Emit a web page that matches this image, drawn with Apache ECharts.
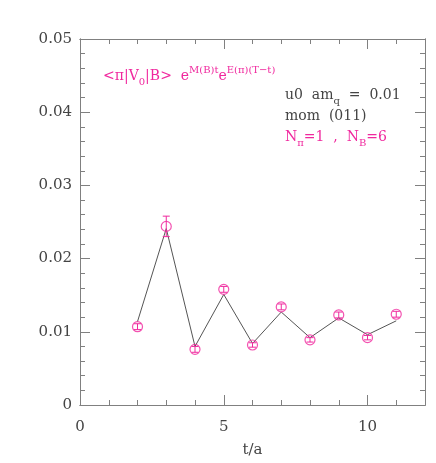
<!DOCTYPE html>
<html>
<head>
<meta charset="utf-8">
<script src="https://cdn.jsdelivr.net/npm/echarts@6/dist/echarts.min.js"></script>
<style>
html,body{margin:0;padding:0;background:#fff;}
#chart{width:436px;height:463px;}
</style>
</head>
<body>
<div id="chart"></div>
<script>
// ---- data ----
const tValues    = [2, 3, 4, 5, 6, 7, 8, 9, 10, 11];
const meanValues = [0.0107, 0.0244, 0.0076, 0.0158, 0.0082, 0.0134, 0.0089, 0.0123, 0.0092, 0.0124];
const errValues  = [0.0004, 0.0014, 0.0004, 0.0004, 0.0003, 0.0004, 0.0003, 0.0004, 0.0003, 0.0004];
const fitValues  = [0.0114, 0.0241, 0.0080, 0.0151, 0.0084, 0.0127, 0.0092, 0.0119, 0.0096, 0.0115];
const xTickLabels = [0, 5, 10];
const yTickLabels = ['0', '0.01', '0.02', '0.03', '0.04', '0.05'];

const PINK = '#f0289e';
const TXT = '#444';
const AX = '#808080';
const FONT = 'DejaVu Serif';

const chart = echarts.init(document.getElementById('chart'), null, {renderer: 'canvas'});

function xAx(pos, interval, len, labels) {
  return {
    type: 'value', position: pos, min: 0, max: 12, interval: interval,
    axisLine: {show: true, onZero: false, lineStyle: {color: AX, width: 1}},
    axisTick: {show: true, inside: true, length: len, lineStyle: {color: AX, width: 1}},
    splitLine: {show: false},
    axisLabel: labels ? {
      show: true, margin: 15, color: TXT, fontFamily: FONT, fontSize: 15,
      formatter: v => xTickLabels.indexOf(v) >= 0 ? String(v) : ''
    } : {show: false},
    name: labels ? 't/a' : '', nameLocation: 'middle', nameGap: 38,
    nameTextStyle: {color: TXT, fontFamily: FONT, fontSize: 15}
  };
}
function yAx(pos, interval, len, labels) {
  return {
    type: 'value', position: pos, min: 0, max: 0.05, interval: interval,
    axisLine: {show: true, onZero: false, lineStyle: {color: AX, width: 1}},
    axisTick: {show: true, inside: true, length: len, lineStyle: {color: AX, width: 1}},
    splitLine: {show: false},
    axisLabel: labels ? {
      show: true, margin: 8, color: TXT, fontFamily: FONT, fontSize: 15,
      formatter: v => { const i = Math.round(v / 0.01); return yTickLabels[i] || ''; }
    } : {show: false}
  };
}

const errData = tValues.map((t, i) => [t, meanValues[i] - errValues[i], meanValues[i] + errValues[i]]);

function richStyles(col, main, small) {
  return {
    m:  {fontFamily: FONT, fontSize: main, fill: col, lineHeight: 22, verticalAlign: 'middle'},
    sb: {fontFamily: FONT, fontSize: small, fill: col, lineHeight: small, verticalAlign: 'bottom'},
    sp: {fontFamily: FONT, fontSize: small, fill: col, lineHeight: small, verticalAlign: 'top'}
  };
}

chart.setOption({
  animation: false,
  backgroundColor: '#fff',
  grid: {left: 80, right: 11, top: 39, bottom: 57, containLabel: false},
  xAxis: [xAx('bottom', 1, 5, true), xAx('bottom', 5, 10, false), xAx('top', 1, 5, false), xAx('top', 5, 10, false)],
  yAxis: [yAx('left', 0.002, 5, false), yAx('left', 0.01, 10, true), yAx('right', 0.002, 5, false), yAx('right', 0.01, 10, false)],
  series: [
    {
      type: 'line', xAxisIndex: 0, yAxisIndex: 1,
      data: tValues.map((t, i) => [t, fitValues[i]]),
      symbol: 'none', lineStyle: {color: '#555', width: 1}, z: 2
    },
    {
      type: 'scatter', xAxisIndex: 0, yAxisIndex: 1,
      data: tValues.map((t, i) => [t, meanValues[i]]),
      symbol: 'circle', symbolSize: 10,
      itemStyle: {color: 'rgba(0,0,0,0)', borderColor: PINK, borderWidth: 1.2}, z: 3
    },
    {
      type: 'custom', xAxisIndex: 0, yAxisIndex: 1,
      data: errData,
      encode: {x: 0, y: [1, 2]},
      z: 4,
      renderItem: function (params, api) {
        const x = api.value(0);
        const p1 = api.coord([x, api.value(1)]);
        const p2 = api.coord([x, api.value(2)]);
        const w = 3.5;
        const st = {stroke: PINK, lineWidth: 1};
        return {type: 'group', children: [
          {type: 'line', shape: {x1: p1[0], y1: p1[1], x2: p2[0], y2: p2[1]}, style: st},
          {type: 'line', shape: {x1: p1[0] - w, y1: p1[1], x2: p1[0] + w, y2: p1[1]}, style: st},
          {type: 'line', shape: {x1: p2[0] - w, y1: p2[1], x2: p2[0] + w, y2: p2[1]}, style: st}
        ]};
      }
    }
  ],
  graphic: [
    {
      type: 'text', left: 103, top: 65,
      style: {
        text: '{m|<π|V}{sb|0}{m||B>  e}{sp|M(B)t}{m|e}{sp|E(π)(T−t)}',
        rich: richStyles(PINK, 14, 10)
      }
    },
    {
      type: 'text', left: 285, top: 88,
      style: {
        text: '{m|u0  am}{sb|q}{m|  =  0.01}',
        rich: richStyles(TXT, 14, 10)
      }
    },
    {
      type: 'text', left: 285, top: 109,
      style: {
        text: '{m|mom  (011)}',
        rich: richStyles(TXT, 14, 10)
      }
    },
    {
      type: 'text', left: 285, top: 130,
      style: {
        text: '{m|N}{sb|π}{m|=1  ,  N}{sb|B}{m|=6}',
        rich: richStyles(PINK, 14, 10)
      }
    }
  ]
});
</script>
</body>
</html>
